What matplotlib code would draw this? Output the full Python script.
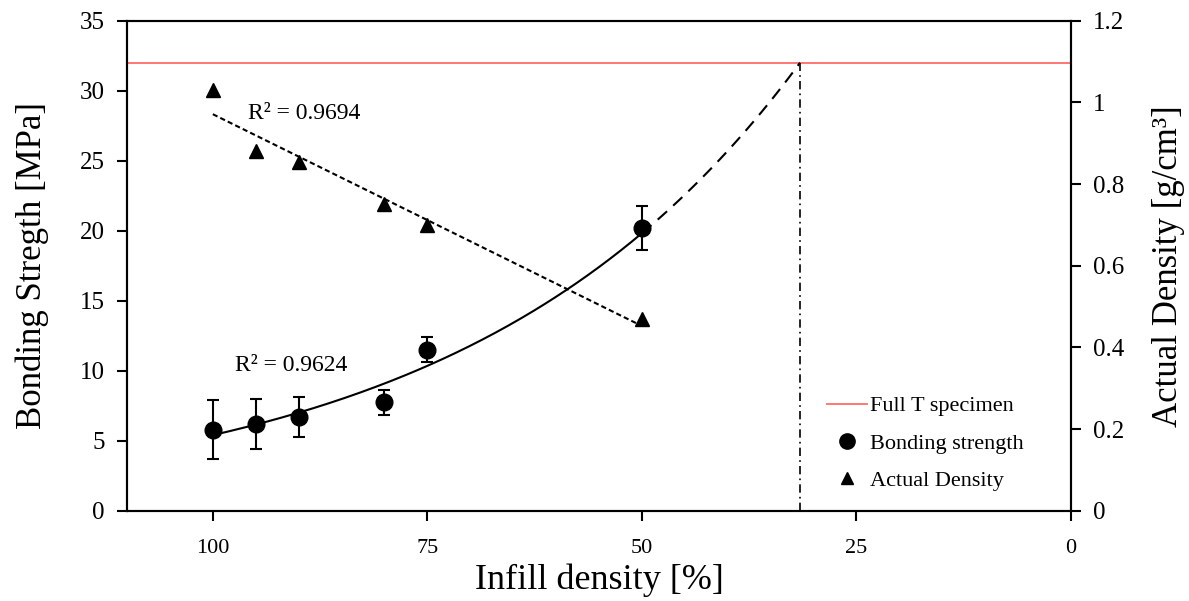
import numpy as np
import matplotlib
matplotlib.use("Agg")
import matplotlib.pyplot as plt
from matplotlib.lines import Line2D
from matplotlib.ticker import FuncFormatter

# datos
infill = [100, 95, 90, 80, 75, 50]
bonding = [5.8, 6.2, 6.7, 7.75, 11.5, 20.2]
bonding_err = [2.1, 1.8, 1.45, 0.9, 0.88, 1.55]
density = [1.03, 0.88, 0.855, 0.75, 0.70, 0.47]
full_t = 32.0
r2_bond = "R² = 0.9624"
r2_dens = "R² = 0.9694"

plt.rcParams['font.family'] = ['Liberation Serif', 'DejaVu Serif']

fig = plt.figure(figsize=(11.89, 6.01), dpi=100)
ax = fig.add_axes([0.1068, 0.1502, 0.794, 0.8154])
ax2 = ax.twinx()

# ajuste exponencial (tendencia tipo Excel)
x = np.array(infill, dtype=float)
b, a = np.polyfit(x, np.log(bonding), 1)
x_fit = np.linspace(100, 50, 200)
ax.plot(x_fit, np.exp(a + b * x_fit), color='black', lw=1.5, zorder=3)
# extrapolacion hasta la resistencia de la pieza completa
x_cross = (np.log(full_t) - a) / b
x_ext = np.linspace(50, x_cross, 100)
ax.plot(x_ext, np.exp(a + b * x_ext), color='black', lw=1.5, dashes=(6, 4), zorder=3)
ax.plot([x_cross, x_cross], [0, full_t], color='black', lw=1.2, dashes=(5, 2.5, 1, 2.5), zorder=3)

ax.axhline(full_t, color='#ff6b6b', lw=1.3, zorder=2)

ax.errorbar(infill, bonding, yerr=bonding_err, fmt='o', color='black', ms=12,
            ecolor='black', elinewidth=1.5, capsize=4, capthick=1.5, zorder=4)

# ajuste lineal de la densidad
m, c = np.polyfit(x, density, 1)
ax2.plot(x_fit, m * x_fit + c, color='black', lw=1.5, dashes=(2.5, 1.5), zorder=3)
ax2.plot(infill, density, '^', color='black', ms=9.5, zorder=4)

ax.text(97.4, 10.4, r2_bond, fontsize=17, va='center', ha='left')
ax.text(95.9, 28.4, r2_dens, fontsize=17, va='center', ha='left')

ax.set_xlim(110, 0)
ax.set_ylim(0, 35)
ax2.set_ylim(0, 1.2)
ax.set_xticks([100, 75, 50, 25, 0])
ax.set_yticks(np.arange(0, 36, 5))
ax2.set_yticks(np.arange(0, 1.21, 0.2))
ax2.yaxis.set_major_formatter(FuncFormatter(lambda v, p: "%g" % round(v, 1)))

for s in ['left', 'right', 'top', 'bottom']:
    ax.spines[s].set_linewidth(1.5)
    ax2.spines[s].set_linewidth(1.5)
ax.tick_params(axis='both', direction='out', length=7, width=1.5, labelsize=18, pad=9)
ax.tick_params(axis='x', labelsize=16, pad=13)
ax2.tick_params(axis='y', direction='out', length=7, width=1.5, labelsize=18, pad=9)

ax.set_xlabel("Infill density [%]", fontsize=26, labelpad=4)
ax.set_ylabel("Bonding Stregth [MPa]", fontsize=25, labelpad=22)
ax2.set_ylabel("Actual Density [g/cm³]", fontsize=25, labelpad=20)

handles = [
    Line2D([], [], color='#ff6b6b', lw=1.3),
    Line2D([], [], marker='o', color='black', ls='none', ms=11),
    Line2D([], [], marker='^', color='black', ls='none', ms=9),
]
ax2.legend(handles, ["Full T specimen", "Bonding strength", "Actual Density"],
           loc='lower left', bbox_to_anchor=(0.72, 0.0), frameon=False,
           fontsize=16, handlelength=1.8, handletextpad=0.15, labelspacing=0.75)

fig.savefig("out.png", dpi=100)
